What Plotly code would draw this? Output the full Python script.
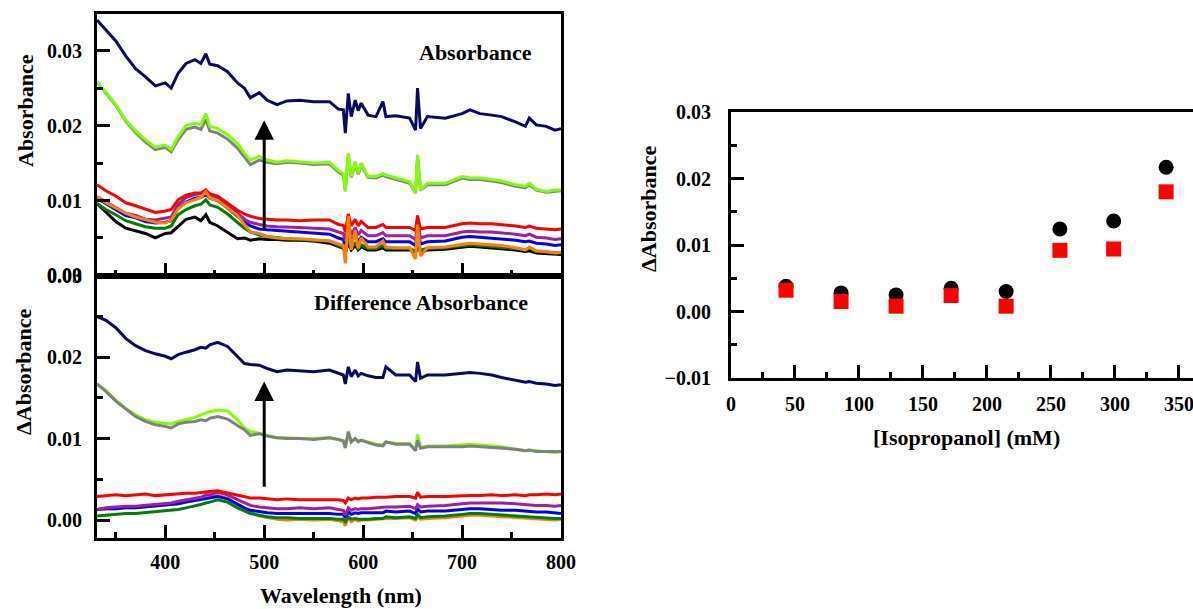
import plotly.graph_objects as go

# ---------------- data ----------------
wavelength = [331, 340, 350, 360, 370, 380, 390, 400, 406, 413, 421, 430, 436, 441, 445, 453, 463, 473,
              480, 486, 495, 503, 513, 523, 536, 550, 566, 575, 580, 582, 585, 588, 592, 595, 598, 605,
              613, 620, 623, 633, 647, 653, 655, 658, 665, 683, 700, 708, 718, 730, 740, 754, 764, 768,
              775, 785, 794, 800]

# Absorbance spectra (top panel)
abs_navy = [0.0341, 0.0328, 0.0313, 0.0293, 0.0276, 0.0265, 0.0253, 0.0257, 0.0250, 0.0270, 0.0283, 0.0288,
            0.0283, 0.0296, 0.0282, 0.0280, 0.0272, 0.0257, 0.0250, 0.0237, 0.0244, 0.0234, 0.0228, 0.0233,
            0.0234, 0.0232, 0.0232, 0.0222, 0.0221, 0.0190, 0.0243, 0.0212, 0.0234, 0.0220, 0.0230, 0.0214,
            0.0212, 0.0232, 0.0212, 0.0213, 0.0210, 0.0194, 0.0250, 0.0196, 0.0212, 0.0210, 0.0216, 0.0221,
            0.0216, 0.0214, 0.0212, 0.0205, 0.0199, 0.0210, 0.0201, 0.0199, 0.0194, 0.0196]
abs_lime = [0.0259, 0.0245, 0.0228, 0.0207, 0.0193, 0.0181, 0.0171, 0.0174, 0.0168, 0.0185, 0.0200, 0.0203,
            0.0201, 0.0216, 0.0199, 0.0196, 0.0188, 0.0176, 0.0163, 0.0154, 0.0159, 0.0154, 0.0151, 0.0153,
            0.0152, 0.0150, 0.0151, 0.0140, 0.0136, 0.0112, 0.0163, 0.0132, 0.0152, 0.0136, 0.0150, 0.0132,
            0.0132, 0.0136, 0.0134, 0.0130, 0.0125, 0.0110, 0.0161, 0.0114, 0.0123, 0.0123, 0.0132, 0.0130,
            0.0130, 0.0128, 0.0126, 0.0121, 0.0119, 0.0123, 0.0115, 0.0112, 0.0114, 0.0114]
abs_gray = [0.0258, 0.0244, 0.0227, 0.0206, 0.0191, 0.0178, 0.0168, 0.0171, 0.0165, 0.0181, 0.0195, 0.0198,
            0.0195, 0.0208, 0.0193, 0.0190, 0.0182, 0.0170, 0.0158, 0.0148, 0.0154, 0.0151, 0.0149, 0.0151,
            0.0150, 0.0148, 0.0149, 0.0138, 0.0134, 0.0114, 0.0160, 0.0131, 0.0150, 0.0135, 0.0148, 0.0131,
            0.0130, 0.0134, 0.0132, 0.0128, 0.0123, 0.0110, 0.0158, 0.0114, 0.0121, 0.0121, 0.0130, 0.0128,
            0.0128, 0.0126, 0.0124, 0.0119, 0.0117, 0.0121, 0.0114, 0.0111, 0.0112, 0.0113]
abs_red = [0.0121, 0.0113, 0.0106, 0.0097, 0.0093, 0.0088, 0.0084, 0.0086, 0.0088, 0.0101, 0.0107, 0.0110,
           0.0110, 0.0114, 0.0109, 0.0106, 0.0096, 0.0087, 0.0082, 0.0079, 0.0076, 0.0075, 0.0074, 0.0074,
           0.0073, 0.0074, 0.0074, 0.0068, 0.0067, 0.0058, 0.0082, 0.0066, 0.0075, 0.0066, 0.0072, 0.0064,
           0.0064, 0.0068, 0.0064, 0.0064, 0.0064, 0.0060, 0.0080, 0.0062, 0.0064, 0.0064, 0.0069, 0.0070,
           0.0069, 0.0069, 0.0068, 0.0066, 0.0064, 0.0066, 0.0063, 0.0062, 0.0061, 0.0062]
abs_purple = [0.0105, 0.0098, 0.0091, 0.0083, 0.0080, 0.0075, 0.0074, 0.0076, 0.0078, 0.0095, 0.0104, 0.0108,
              0.0109, 0.0114, 0.0108, 0.0104, 0.0094, 0.0083, 0.0075, 0.0071, 0.0068, 0.0066, 0.0065, 0.0065,
              0.0064, 0.0063, 0.0062, 0.0058, 0.0056, 0.0046, 0.0070, 0.0054, 0.0064, 0.0054, 0.0060, 0.0053,
              0.0053, 0.0057, 0.0053, 0.0053, 0.0053, 0.0048, 0.0072, 0.0050, 0.0053, 0.0053, 0.0058, 0.0059,
              0.0058, 0.0058, 0.0057, 0.0055, 0.0053, 0.0055, 0.0051, 0.0050, 0.0048, 0.0049]
abs_blue = [0.0103, 0.0096, 0.0088, 0.0080, 0.0077, 0.0072, 0.0070, 0.0071, 0.0073, 0.0090, 0.0098, 0.0103,
            0.0104, 0.0108, 0.0103, 0.0100, 0.0090, 0.0079, 0.0071, 0.0066, 0.0062, 0.0061, 0.0060, 0.0059,
            0.0058, 0.0057, 0.0055, 0.0050, 0.0048, 0.0036, 0.0062, 0.0045, 0.0055, 0.0045, 0.0051, 0.0045,
            0.0045, 0.0049, 0.0045, 0.0045, 0.0045, 0.0040, 0.0062, 0.0042, 0.0045, 0.0046, 0.0051, 0.0052,
            0.0051, 0.0050, 0.0049, 0.0047, 0.0045, 0.0046, 0.0043, 0.0042, 0.0040, 0.0041]
abs_orange = [0.0105, 0.0097, 0.0090, 0.0083, 0.0078, 0.0074, 0.0071, 0.0070, 0.0074, 0.0089, 0.0097, 0.0101,
              0.0104, 0.0112, 0.0103, 0.0100, 0.0090, 0.0080, 0.0068, 0.0058, 0.0056, 0.0052, 0.0050, 0.0049,
              0.0049, 0.0048, 0.0046, 0.0042, 0.0040, 0.0016, 0.0079, 0.0034, 0.0060, 0.0036, 0.0050, 0.0038,
              0.0038, 0.0046, 0.0038, 0.0037, 0.0037, 0.0022, 0.0068, 0.0026, 0.0037, 0.0038, 0.0042, 0.0043,
              0.0042, 0.0041, 0.0040, 0.0037, 0.0034, 0.0038, 0.0033, 0.0032, 0.0030, 0.0031]
abs_green = [0.0096, 0.0088, 0.0081, 0.0073, 0.0069, 0.0065, 0.0063, 0.0063, 0.0066, 0.0081, 0.0088, 0.0093,
             0.0095, 0.0101, 0.0094, 0.0091, 0.0082, 0.0071, 0.0063, 0.0058, 0.0054, 0.0052, 0.0050, 0.0049,
             0.0048, 0.0047, 0.0046, 0.0040, 0.0038, 0.0030, 0.0050, 0.0036, 0.0044, 0.0036, 0.0041, 0.0036,
             0.0036, 0.0040, 0.0036, 0.0036, 0.0036, 0.0032, 0.0048, 0.0034, 0.0036, 0.0037, 0.0040, 0.0041,
             0.0040, 0.0039, 0.0038, 0.0036, 0.0034, 0.0036, 0.0032, 0.0031, 0.0030, 0.0030]
abs_black = [0.0096, 0.0084, 0.0072, 0.0063, 0.0060, 0.0056, 0.0050, 0.0056, 0.0057, 0.0066, 0.0075, 0.0078,
             0.0073, 0.0081, 0.0071, 0.0066, 0.0057, 0.0049, 0.0050, 0.0047, 0.0049, 0.0048, 0.0048, 0.0047,
             0.0047, 0.0046, 0.0043, 0.0038, 0.0036, 0.0030, 0.0044, 0.0034, 0.0040, 0.0034, 0.0038, 0.0034,
             0.0034, 0.0037, 0.0034, 0.0034, 0.0034, 0.0030, 0.0042, 0.0031, 0.0034, 0.0035, 0.0038, 0.0039,
             0.0038, 0.0037, 0.0036, 0.0034, 0.0032, 0.0033, 0.0030, 0.0029, 0.0028, 0.0028]

# Difference absorbance spectra (bottom panel)
diff_navy = [0.0250, 0.0245, 0.0236, 0.0223, 0.0214, 0.0208, 0.0204, 0.0201, 0.0198, 0.0203, 0.0206, 0.0209,
             0.0212, 0.0211, 0.0215, 0.0218, 0.0213, 0.0200, 0.0192, 0.0191, 0.0190, 0.0186, 0.0182, 0.0184,
             0.0183, 0.0182, 0.0184, 0.0180, 0.0178, 0.0167, 0.0188, 0.0176, 0.0184, 0.0177, 0.0180, 0.0177,
             0.0175, 0.0175, 0.0188, 0.0178, 0.0178, 0.0170, 0.0194, 0.0174, 0.0178, 0.0178, 0.0180, 0.0181,
             0.0180, 0.0178, 0.0175, 0.0171, 0.0169, 0.0170, 0.0168, 0.0167, 0.0165, 0.0166]
diff_lime = [0.0167, 0.0159, 0.0147, 0.0137, 0.0129, 0.0123, 0.0120, 0.0119, 0.0118, 0.0121, 0.0123, 0.0126,
             0.0129, 0.0131, 0.0133, 0.0135, 0.0134, 0.0123, 0.0113, 0.0109, 0.0106, 0.0104, 0.0101, 0.0101,
             0.0100, 0.0100, 0.0101, 0.0099, 0.0097, 0.0088, 0.0109, 0.0096, 0.0100, 0.0097, 0.0098, 0.0096,
             0.0093, 0.0092, 0.0096, 0.0094, 0.0094, 0.0086, 0.0105, 0.0089, 0.0091, 0.0091, 0.0092, 0.0093,
             0.0092, 0.0091, 0.0090, 0.0087, 0.0085, 0.0086, 0.0085, 0.0084, 0.0083, 0.0084]
diff_gray = [0.0167, 0.0158, 0.0146, 0.0136, 0.0127, 0.0121, 0.0117, 0.0115, 0.0113, 0.0118, 0.0120, 0.0121,
             0.0123, 0.0122, 0.0125, 0.0127, 0.0124, 0.0116, 0.0111, 0.0104, 0.0106, 0.0103, 0.0101, 0.0100,
             0.0100, 0.0099, 0.0101, 0.0099, 0.0097, 0.0089, 0.0108, 0.0096, 0.0100, 0.0096, 0.0098, 0.0095,
             0.0092, 0.0091, 0.0096, 0.0093, 0.0093, 0.0085, 0.0098, 0.0088, 0.0090, 0.0090, 0.0090, 0.0091,
             0.0090, 0.0089, 0.0088, 0.0087, 0.0085, 0.0086, 0.0084, 0.0084, 0.0084, 0.0084]
diff_red = [0.0029, 0.0030, 0.0031, 0.0030, 0.0031, 0.0032, 0.0030, 0.0031, 0.0031, 0.0032, 0.0033, 0.0033,
            0.0034, 0.0035, 0.0035, 0.0036, 0.0033, 0.0030, 0.0028, 0.0027, 0.0027, 0.0026, 0.0025, 0.0026,
            0.0025, 0.0025, 0.0025, 0.0025, 0.0024, 0.0021, 0.0027, 0.0025, 0.0027, 0.0026, 0.0027, 0.0027,
            0.0028, 0.0028, 0.0028, 0.0029, 0.0029, 0.0027, 0.0034, 0.0028, 0.0029, 0.0029, 0.0030, 0.0030,
            0.0030, 0.0031, 0.0030, 0.0031, 0.0030, 0.0031, 0.0031, 0.0032, 0.0031, 0.0032]
diff_purple = [0.0013, 0.0015, 0.0016, 0.0017, 0.0017, 0.0018, 0.0019, 0.0020, 0.0021, 0.0023, 0.0025, 0.0027,
               0.0028, 0.0031, 0.0031, 0.0034, 0.0031, 0.0025, 0.0021, 0.0018, 0.0016, 0.0015, 0.0014, 0.0014,
               0.0015, 0.0014, 0.0015, 0.0013, 0.0012, 0.0006, 0.0015, 0.0012, 0.0014, 0.0013, 0.0014, 0.0014,
               0.0015, 0.0015, 0.0016, 0.0016, 0.0017, 0.0014, 0.0019, 0.0016, 0.0017, 0.0018, 0.0020, 0.0021,
               0.0021, 0.0021, 0.0021, 0.0020, 0.0019, 0.0019, 0.0018, 0.0018, 0.0017, 0.0018]
diff_blue = [0.0013, 0.0014, 0.0014, 0.0015, 0.0015, 0.0016, 0.0017, 0.0018, 0.0019, 0.0020, 0.0022, 0.0024,
             0.0025, 0.0027, 0.0027, 0.0029, 0.0026, 0.0019, 0.0015, 0.0012, 0.0010, 0.0009, 0.0008, 0.0008,
             0.0008, 0.0008, 0.0008, 0.0007, 0.0007, 0.0003, 0.0010, 0.0007, 0.0009, 0.0008, 0.0009, 0.0009,
             0.0009, 0.0009, 0.0011, 0.0010, 0.0011, 0.0008, 0.0014, 0.0010, 0.0011, 0.0011, 0.0013, 0.0014,
             0.0014, 0.0013, 0.0012, 0.0012, 0.0011, 0.0011, 0.0010, 0.0010, 0.0009, 0.0008]
diff_orange = [0.0013, 0.0014, 0.0014, 0.0015, 0.0015, 0.0016, 0.0017, 0.0018, 0.0019, 0.0020, 0.0022, 0.0024,
               0.0026, 0.0028, 0.0028, 0.0030, 0.0027, 0.0019, 0.0013, 0.0009, 0.0005, 0.0003, 0.0001, 0.0000,
               0.0001, 0.0000, 0.0001, -0.0001, -0.0002, -0.0007, 0.0003, -0.0002, 0.0001, -0.0001, 0.0000,
               0.0000, 0.0001, 0.0001, 0.0002, 0.0002, 0.0003, 0.0000, 0.0004, 0.0001, 0.0002, 0.0003, 0.0005,
               0.0006, 0.0006, 0.0005, 0.0004, 0.0003, 0.0002, 0.0002, 0.0001, 0.0001, 0.0000, 0.0001]
diff_green = [0.0005, 0.0006, 0.0007, 0.0008, 0.0008, 0.0009, 0.0010, 0.0011, 0.0012, 0.0013, 0.0015, 0.0017,
              0.0019, 0.0021, 0.0022, 0.0025, 0.0022, 0.0015, 0.0011, 0.0008, 0.0006, 0.0004, 0.0003, 0.0003,
              0.0002, 0.0002, 0.0002, 0.0001, 0.0001, -0.0002, 0.0004, 0.0001, 0.0002, 0.0001, 0.0001, 0.0001,
              0.0002, 0.0002, 0.0004, 0.0003, 0.0004, 0.0002, 0.0007, 0.0003, 0.0004, 0.0005, 0.0007, 0.0008,
              0.0008, 0.0007, 0.0006, 0.0005, 0.0004, 0.0004, 0.0003, 0.0003, 0.0002, 0.0002]

# Right panel
isopropanol_mM = [43, 86, 129, 172, 215, 257, 299, 340]
delta_abs_circles = [0.0038, 0.0028, 0.0025, 0.0035, 0.0030, 0.0124, 0.0136, 0.0217]
delta_abs_squares = [0.0032, 0.0015, 0.0008, 0.0024, 0.0008, 0.0092, 0.0094, 0.0180]

# ---------------- styling ----------------
C = dict(navy="#0a0a64", lime="#7fff00", gray="#808080", red="#ff0000", purple="#a01ea0",
         blue="#0000ff", orange="#ff8000", green="#008000", black="#000000")
FONT = "Liberation Serif"
W, H = 1193, 609


def px_x(p):
    return p / W


def px_y(p):
    return 1 - p / H


fig = go.Figure()

top_series = [(abs_black, "black"), (abs_green, "green"), (abs_blue, "blue"), (abs_purple, "purple"),
              (abs_red, "red"), (abs_gray, "gray"), (abs_lime, "lime"), (abs_navy, "navy"),
              (abs_orange, "orange")]
for vals, c in top_series:
    fig.add_trace(go.Scatter(x=wavelength, y=vals, mode="lines", line=dict(color=C[c], width=3),
                             xaxis="x", yaxis="y", showlegend=False, hoverinfo="skip"))

bottom_series = [(diff_orange, "orange"), (diff_blue, "blue"), (diff_purple, "purple"), (diff_red, "red"),
                 (diff_lime, "lime"), (diff_gray, "gray"), (diff_navy, "navy"), (diff_green, "green")]
for vals, c in bottom_series:
    fig.add_trace(go.Scatter(x=wavelength, y=vals, mode="lines", line=dict(color=C[c], width=3),
                             xaxis="x2", yaxis="y2", showlegend=False, hoverinfo="skip"))

fig.add_trace(go.Scatter(x=isopropanol_mM, y=delta_abs_circles, mode="markers",
                         marker=dict(symbol="circle", size=15, color="black"),
                         xaxis="x3", yaxis="y3", showlegend=False))
fig.add_trace(go.Scatter(x=isopropanol_mM, y=delta_abs_squares, mode="markers",
                         marker=dict(symbol="square", size=15, color="#ff0000"),
                         xaxis="x3", yaxis="y3", showlegend=False))

tickfont = dict(family=FONT, size=20, color="black", weight="bold")


def axis(**kw):
    d = dict(showgrid=False, zeroline=False, showline=True, linecolor="black", linewidth=3,
             ticks="inside", ticklen=13, tickwidth=3, tickcolor="black", tickfont=tickfont,
             automargin=False, layer="above traces", tickmode="linear", ticklabeloverflow="allow")
    d.update(kw)
    return d


def minor(dtick, tick0):
    return dict(dtick=dtick, tick0=tick0, ticklen=6, tickwidth=3, ticks="inside", tickcolor="black")


left_dom = [px_x(97), px_x(561)]
top_dom = [px_y(275.5), px_y(14)]
bot_dom = [px_y(538), px_y(275.5)]

fig.update_layout(
    width=W, height=H, margin=dict(l=0, r=0, t=0, b=0, autoexpand=False),
    paper_bgcolor="white", plot_bgcolor="white",
    xaxis=axis(domain=left_dom, range=[331, 800], tick0=400, dtick=100, showticklabels=False,
               mirror=True, anchor="y", minor=minor(50, 350)),
    yaxis=axis(domain=top_dom, range=[-0.00001, 0.0349], tick0=0, dtick=0.01, tickformat=".2f",
               mirror=True, anchor="x", ticklabelstandoff=8, minor=minor(0.005, 0)),
    xaxis2=axis(domain=left_dom, range=[331, 800], tick0=400, dtick=100, mirror=True, anchor="y2",
                ticklabelstandoff=4, minor=minor(50, 350)),
    yaxis2=axis(domain=bot_dom, range=[-0.0022, 0.03001], tick0=0, dtick=0.01, tickformat=".2f",
                mirror=True, anchor="x2", ticklabelstandoff=8, minor=minor(0.005, 0)),
    xaxis3=axis(domain=[px_x(731), 1.0], range=[0, 361], tick0=0, dtick=50, mirror=True,
                anchor="y3", ticklabelstandoff=6, minor=minor(25, 0)),
    yaxis3=axis(domain=[px_y(378), px_y(112)], range=[-0.01, 0.03], tick0=0, dtick=0.01,
                tickformat=".2f", anchor="x3", ticklabelstandoff=13, minor=minor(0.005, 0)),
)


def label(text, x, y, size=22, angle=0):
    fig.add_annotation(text=text, x=px_x(x), y=px_y(y), xref="paper", yref="paper",
                       xanchor="center", yanchor="middle", showarrow=False, textangle=angle,
                       font=dict(family=FONT, size=size, color="black", weight="bold"))


label("Absorbance", 25, 111, angle=-90)
label("\u0394Absorbance", 23, 372, angle=-90)
label("Wavelength (nm)", 341, 595)
label("\u0394Absorbance", 648, 209, angle=-90)
label("[Isopropanol] (mM)", 967, 437)
label("Absorbance", 475, 52)
label("Difference Absorbance", 421, 303)

# arrows
fig.add_annotation(x=500, y=0.0207, ax=500, ay=0.0060, xref="x", yref="y", axref="x", ayref="y",
                   showarrow=True, arrowhead=2, arrowsize=1.3, arrowwidth=3, arrowcolor="black", text="")
fig.add_annotation(x=500, y=0.0170, ax=500, ay=0.0039, xref="x2", yref="y2", axref="x2", ayref="y2",
                   showarrow=True, arrowhead=2, arrowsize=1.3, arrowwidth=3, arrowcolor="black", text="")

fig.write_html("out.html", config={"displayModeBar": False},
               post_script="document.body.style.margin='0';document.body.style.overflow='hidden';")
